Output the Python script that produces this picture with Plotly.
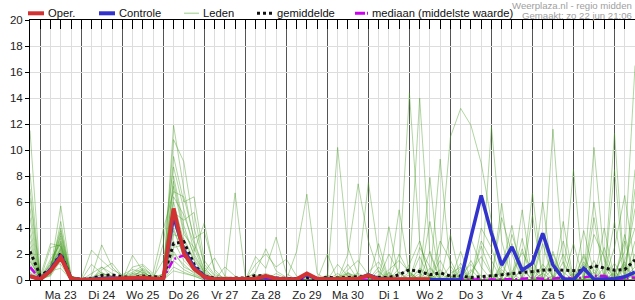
import plotly.graph_objects as go
import pandas as pd

# ---------------- data ----------------
start_time = "2025-06-22 18:00"
n_steps = 60
day_labels = ["Ma 23", "Di 24", "Wo 25", "Do 26", "Vr 27", "Za 28", "Zo 29",
              "Ma 30", "Di 1", "Wo 2", "Do 3", "Vr 4", "Za 5", "Zo 6"]
label_start = "2025-06-23 12:00"

oper = [0.3, 0.05, 0.7, 1.75, 0.1, 0.02, 0.02, 0.05, 0.1, 0.1,
        0.15, 0.2, 0.1, 0.1, 5.5, 2.1, 0.85, 0.25, 0.05, 0.05,
        0.05, 0.05, 0.1, 0.3, 0.1, 0.05, 0.05, 0.5, 0.1, 0.05,
        0.05, 0.05, 0.1, 0.35, 0.05, 0.05, 0.05, 0.05, 0.05, 0.05]

controle = [0.3, 0.05, 0.8, 1.9, 0.1, 0.02, 0.05, 0.1, 0.15, 0.1,
            0.15, 0.15, 0.1, 0.1, 4.9, 2.3, 1.0, 0.3, 0.05, 0.05,
            0.05, 0.05, 0.1, 0.2, 0.1, 0.05, 0.05, 0.4, 0.1, 0.05,
            0.05, 0.05, 0.1, 0.4, 0.1, 0.05, 0.05, 0.05, 0.05, 0.0,
            0.0, 0.0, 0.0, 3.3, 6.5, 3.6, 1.15, 2.55, 0.75, 1.3,
            3.6, 1.15, 0.1, 0.0, 0.9, 0.05, 0.1, 0.1, 0.25, 0.6]

gemiddelde = [2.2, 0.35, 0.8, 2.05, 0.15, 0.05, 0.1, 0.35, 0.4, 0.25,
              0.2, 0.3, 0.25, 0.2, 2.8, 2.95, 1.2, 0.3, 0.15, 0.1,
              0.15, 0.15, 0.35, 0.3, 0.15, 0.1, 0.1, 0.2, 0.1, 0.2,
              0.15, 0.2, 0.25, 0.3, 0.2, 0.2, 0.4, 0.8, 0.65, 0.4,
              0.55, 0.3, 0.3, 0.2, 0.25, 0.3, 0.4, 0.5, 0.55, 0.65,
              0.75, 0.8, 0.75, 0.75, 0.7, 1.1, 0.95, 0.75, 0.8, 1.55]

mediaan = [1.0, 0.05, 0.7, 1.8, 0.05, 0.0, 0.0, 0.05, 0.05, 0.05,
           0.05, 0.1, 0.05, 0.1, 1.6, 1.9, 0.9, 0.15, 0.05, 0.0,
           0.0, 0.0, 0.05, 0.05, 0.0, 0.0, 0.0, 0.05, 0.0, 0.0,
           0.0, 0.0, 0.0, 0.05, 0.0, 0.0, 0.0, 0.0, 0.0, 0.0,
           0.0, 0.0, 0.05, 0.05, 0.05, 0.05, 0.05, 0.05, 0.1, 0.15,
           0.1, 0.1, 0.2, 0.1, 0.2, 0.3, 0.3, 0.1, 0.1, 0.2]

# ensemble members (Leden): Zo18 | Ma | Di | Wo | Do | Vr | Za | Zo | Ma30 | Di1 | Wo2 | Do3 | Vr4 | Za5 | Zo6 | Ma7
m01 = [11.5, 0.2,0.5,2.5,0.1, 0.0,0.1,0.3,0.2, 0.1,0.4,0.6,0.1, 0.2,11.9,7.0,3.0, 0.8,0.2,0.1,0.0, 0.0,0.3,0.5,0.2, 0.0,0.1,0.0,0.0, 0.0,0.2,0.5,0.3, 0.1,0.0,0.8,1.5, 0.6,0.0,0.2,0.0, 0.0,0.4,1.2,0.3, 0.0,0.0,0.6,2.1, 0.8,0.0,0.3,0.0, 0.0,1.4,0.2,0.0, 0.5,2.2,16.5]
m02 = [8.2, 0.1,0.8,5.7,0.3, 0.0,0.0,0.2,0.1, 0.0,0.2,0.8,0.3, 0.4,10.8,9.1,4.0, 1.2,0.3,0.0,0.0, 0.0,0.0,0.1,0.0, 0.0,0.0,0.2,0.0, 0.0,10.2,2.5,0.4, 0.0,0.3,0.0,0.0, 0.0,0.9,0.4,0.0, 0.0,0.0,0.0,2.6, 0.5,0.0,0.0,0.8, 0.0,0.3,11.6,1.2, 0.0,0.0,0.0,0.5, 0.0,0.2,1.0]
m03 = [7.0, 0.0,1.0,3.2,0.2, 0.0,0.3,2.7,1.0, 0.2,0.5,0.9,0.4, 0.1,9.5,6.0,6.4, 1.5,0.4,0.2,0.0, 0.1,0.6,2.4,0.7, 0.2,0.0,0.1,0.0, 0.0,0.0,2.0,7.4, 3.0,0.6,0.0,0.0, 0.0,0.5,0.0,0.0, 0.3,0.0,0.0,0.0, 0.0,1.0,4.2,0.0, 0.0,0.0,0.9,0.0, 0.0,0.0,3.5,1.8, 0.0,0.0,0.4]
m04 = [6.3, 0.3,2.8,2.6,0.1, 0.0,1.2,0.5,0.3, 0.0,1.9,0.7,0.0, 2.8,8.7,5.5,2.2, 4.4,0.6,0.0,0.0, 0.0,0.0,0.0,0.0, 0.0,0.0,0.0,0.0, 0.0,0.0,0.0,0.6, 7.5,2.0,0.0,0.9, 14.4,3.0,0.0,0.0, 0.0,0.0,0.0,0.0, 0.3,0.0,0.0,0.0, 0.0,0.5,2.0,0.0, 0.0,0.2,0.0,0.0, 0.0,0.0,0.0]
m05 = [5.5, 0.1,0.6,4.5,0.2, 0.1,0.0,0.8,1.3, 0.3,0.6,1.1,0.2, 0.0,8.0,4.2,1.8, 0.6,1.7,0.3,0.1, 0.0,1.8,0.9,3.3, 0.5,0.0,0.0,0.0, 0.0,0.3,0.0,0.0, 0.0,0.0,0.6,0.0, 0.4,14.0,2.0,0.0, 0.0,0.3,0.0,0.0, 0.0,0.0,0.5,0.0, 0.0,0.0,0.0,0.0, 0.0,0.0,10.2,1.5, 0.0,1.0,0.0]
m06 = [4.8, 0.0,0.4,1.8,0.1, 0.0,0.0,0.1,0.0, 0.0,0.2,0.5,0.0, 0.3,7.2,3.5,2.5, 0.5,0.0,0.0,6.7, 0.2,0.4,0.0,0.5, 0.1,0.2,0.0,0.0, 0.0,0.0,0.0,0.0, 0.0,0.0,0.0,5.4, 0.4,0.0,0.0,9.3, 0.8,0.0,0.0,0.0, 0.0,0.0,0.0,0.0, 6.7,0.0,0.0,0.0, 0.0,0.0,0.0,0.0, 0.0,0.0,0.5]
m07 = [4.0, 0.2,1.2,3.0,0.3, 0.0,0.2,0.4,0.1, 0.0,1.0,1.2,0.5, 3.9,6.8,6.4,3.2, 3.7,0.8,0.0,0.0, 0.0,0.0,0.0,0.0, 0.0,2.2,6.6,0.5, 0.0,0.0,0.3,0.0, 0.0,0.0,0.0,0.0, 0.0,0.0,0.0,2.0, 11.0,13.2,11.9,9.0, 4.5,0.0,0.0,0.0, 0.0,0.0,0.0,0.0, 0.0,0.3,0.0,0.0, 0.0,0.0,0.0]
m08 = [3.5, 0.0,0.7,2.2,0.1, 0.1,2.3,1.5,0.8, 0.4,0.8,0.6,0.2, 1.5,6.0,3.0,1.5, 0.4,0.0,1.0,0.3, 0.0,1.2,2.0,1.0, 1.6,0.3,0.0,0.0, 0.0,0.5,0.0,0.0, 0.0,0.0,4.1,0.0, 0.0,0.0,7.9,0.0, 0.0,0.0,0.0,0.0, 0.0,5.9,0.0,0.0, 0.0,0.0,0.0,0.0, 0.0,0.0,0.0,0.0, 8.5,0.0,0.0]
m09 = [3.0, 0.1,0.9,4.0,0.2, 0.0,0.0,0.0,0.0, 0.0,0.0,0.3,0.0, 0.0,5.5,2.5,1.2, 0.3,0.0,0.0,0.0, 0.0,0.0,0.0,0.0, 0.0,0.0,0.0,0.0, 0.0,0.0,0.4,0.0, 0.0,0.0,2.0,0.5, 0.0,0.0,0.0,1.5, 0.0,0.0,0.0,0.0, 11.8,3.0,0.0,0.0, 0.0,0.0,2.2,0.0, 0.0,0.0,0.0,2.5, 0.0,0.0,0.0]
m10 = [2.6, 0.0,2.5,2.7,0.1, 0.0,0.5,1.0,0.2, 0.1,0.3,0.8,0.0, 0.0,5.2,4.6,5.2, 1.0,0.0,0.0,0.2, 0.0,0.0,0.3,0.0, 0.0,0.0,0.0,0.1, 0.3,0.0,0.8,1.5, 0.4,0.0,0.0,0.0, 1.2,3.0,0.0,0.0, 0.5,1.0,0.0,0.0, 0.0,0.0,0.0,2.4, 0.0,6.0,0.0,3.0, 0.0,0.0,0.0,0.0, 11.3,0.0,8.5]
m11 = [2.2, 0.1,0.3,1.5,0.0, 0.0,0.1,0.2,0.0, 0.0,0.5,0.4,0.1, 0.2,4.5,2.0,0.9, 0.3,0.2,0.0,0.0, 0.0,0.0,0.0,0.0, 0.0,0.0,0.0,0.0, 0.0,0.0,0.0,0.0, 0.0,0.0,0.0,0.0, 0.0,0.0,4.5,0.0, 0.0,2.2,0.0,0.0, 0.0,0.0,0.0,5.4, 0.0,0.0,0.0,0.0, 8.5,0.0,0.0,0.0, 0.0,1.2,0.0]
m12 = [2.0, 0.0,1.1,3.4,0.3, 0.1,0.0,0.0,0.0, 0.0,0.1,0.2,0.0, 0.5,4.0,1.8,0.8, 0.2,0.0,0.0,0.0, 0.2,0.0,0.0,0.0, 0.0,0.0,0.0,0.0, 0.0,1.2,0.3,0.0, 0.6,1.4,0.0,0.0, 0.0,2.5,1.0,0.0, 0.0,0.0,3.2,1.0, 0.0,0.0,0.0,0.0, 1.5,0.0,0.0,0.0, 0.0,3.8,0.5,0.0, 0.0,1.5,4.0]
m13 = [1.7, 0.0,0.6,2.0,0.1, 0.0,0.0,0.0,0.0, 0.0,0.0,0.0,0.0, 0.0,3.5,3.2,1.6, 0.5,0.0,0.0,0.0, 0.0,0.0,0.0,0.0, 0.0,0.0,0.0,0.0, 0.0,0.0,0.0,0.0, 0.0,0.0,0.0,0.0, 0.0,0.0,2.2,0.0, 0.0,0.0,0.0,3.0, 1.5,0.0,0.0,0.0, 0.0,0.0,0.0,4.5, 0.0,0.0,0.0,1.0, 0.0,3.0,0.0]
m14 = [1.4, 0.2,0.8,2.9,0.2, 0.0,0.2,0.6,0.0, 0.0,0.0,0.5,0.0, 0.0,3.0,1.5,0.7, 0.2,0.0,0.0,0.0, 0.0,0.0,0.0,0.0, 0.0,0.0,0.0,0.0, 2.0,0.0,0.0,0.0, 0.0,0.0,0.3,0.0, 0.0,0.0,0.0,0.8, 0.0,1.3,0.0,0.0, 0.0,4.8,2.0,0.0, 0.0,0.0,0.0,0.0, 0.0,0.0,6.0,0.0, 0.0,0.0,2.0]
m15 = [1.2, 0.0,1.4,1.2,0.0, 0.0,0.0,0.0,0.1, 0.0,0.0,0.0,0.0, 0.0,2.5,2.7,1.0, 0.3,0.0,0.0,0.0, 0.0,0.0,0.0,0.0, 0.0,0.0,0.0,0.0, 0.0,0.0,0.0,0.0, 0.0,2.8,0.0,0.0, 0.0,0.0,0.0,0.0, 0.0,0.0,1.5,0.0, 0.0,0.0,0.0,0.0, 0.0,3.5,0.0,0.0, 0.0,2.0,0.0,0.0, 4.5,0.0,0.0]
m16 = [1.0, 0.1,0.5,3.6,0.1, 0.0,0.0,0.0,0.0, 0.0,0.2,0.0,0.0, 0.0,2.0,1.2,0.5, 0.1,0.0,0.0,0.0, 0.0,0.0,0.0,0.0, 0.0,0.0,0.0,0.0, 0.0,0.0,0.0,0.0, 0.0,0.0,0.0,0.0, 0.0,1.8,0.0,0.0, 3.5,0.0,0.0,0.0, 0.0,0.0,2.8,0.0, 0.0,0.0,0.0,0.0, 0.0,1.2,0.0,4.0, 0.0,0.0,0.0]
m17 = [0.8, 0.0,0.9,2.4,0.0, 0.0,0.0,0.0,0.0, 0.0,0.0,0.0,0.0, 0.0,1.5,0.8,0.4, 0.1,0.0,0.0,0.0, 0.0,0.0,0.0,0.0, 0.0,0.0,0.0,0.0, 0.0,0.0,0.0,0.0, 0.0,0.0,0.0,2.0, 0.5,0.0,0.0,0.0, 0.0,0.0,0.8,0.0, 0.0,0.6,0.0,0.0, 5.0,0.0,0.0,0.0, 0.0,0.0,1.5,0.0, 2.5,6.5,1.0]
m18 = [0.6, 0.0,0.7,0.9,0.0, 0.0,0.0,0.0,0.0, 0.0,0.0,0.0,0.0, 0.0,1.0,0.6,0.3, 0.0,0.0,0.0,0.0, 0.0,0.0,0.0,0.0, 0.0,0.0,0.0,0.0, 0.0,0.3,0.0,0.0, 0.0,0.0,0.5,0.0, 0.0,0.8,0.2,0.0, 0.0,0.0,0.6,1.8, 0.4,0.0,0.0,0.9, 0.0,1.2,0.3,0.0, 2.8,0.0,0.6,0.0, 0.0,0.8,5.5]
m19 = [0.5, 0.1,1.6,2.8,0.1, 0.0,0.0,0.0,0.0, 0.0,0.0,0.0,0.0, 0.0,0.7,0.5,0.3, 0.0,0.0,0.0,0.0, 0.0,0.0,0.0,0.0, 0.0,0.0,0.0,0.0, 0.0,0.0,0.0,0.5, 0.2,0.0,0.0,0.0, 0.6,0.0,0.0,0.0, 0.0,0.7,0.0,0.0, 0.0,0.0,3.5,1.0, 0.0,0.5,0.0,1.4, 0.0,0.0,0.8,0.0, 0.0,3.5,0.0]
m20 = [0.4, 0.0,0.4,2.1,0.2, 0.0,0.0,1.0,0.5, 0.0,0.0,0.0,0.0, 0.0,6.4,5.0,2.8, 0.7,0.0,0.0,0.0, 0.0,0.0,0.0,0.0, 0.0,0.0,0.0,0.0, 0.0,0.0,1.2,0.0, 0.0,0.4,0.0,0.0, 0.0,0.0,0.0,3.0, 1.5,0.0,0.3,0.0, 0.0,0.8,0.0,0.0, 0.0,0.0,1.6,0.0, 0.5,0.0,0.0,0.0, 0.0,1.4,0.0]
m21 = [0.3, 0.0,1.0,3.8,0.3, 0.0,0.1,0.2,0.0, 0.0,0.0,0.0,0.0, 0.5,7.6,3.8,2.0, 0.6,0.0,0.0,0.0, 0.0,0.0,0.0,0.0, 0.0,0.0,0.0,0.0, 0.0,0.0,0.5,0.0, 0.0,0.0,0.0,0.0, 0.0,0.0,0.4,0.0, 0.0,0.0,0.0,4.0, 2.5,0.0,0.0,0.0, 0.0,0.9,0.0,0.0, 0.0,0.0,4.8,0.0, 0.0,0.0,0.0]
m22 = [0.2, 0.0,0.6,1.6,0.1, 0.0,0.0,0.0,0.0, 0.0,0.0,0.0,0.0, 0.0,4.8,2.3,1.1, 0.3,0.0,0.0,0.0, 0.0,0.0,0.0,0.0, 0.0,0.0,0.0,0.0, 0.4,0.0,0.0,0.0, 0.0,0.0,0.0,0.6, 0.0,0.0,0.9,0.0, 0.0,0.0,0.0,0.0, 0.0,1.2,0.0,0.0, 0.0,2.8,0.0,0.0, 0.0,0.0,1.1,0.0, 0.6,0.0,7.0]
m23 = [0.9, 0.0,0.8,2.6,0.1, 0.0,0.0,0.5,0.3, 0.1,0.0,0.0,0.0, 0.0,3.8,1.9,0.9, 0.2,0.0,0.0,0.0, 0.0,0.0,0.0,0.0, 0.0,0.0,0.0,0.0, 0.0,0.0,0.0,0.0, 0.0,0.7,0.0,0.0, 0.0,0.0,0.0,0.5, 0.0,0.9,0.0,0.0, 0.0,0.0,0.0,3.2, 0.0,0.0,0.0,0.6, 0.0,1.8,0.0,0.0, 0.0,0.0,3.0]
m24 = [1.5, 0.1,1.2,2.3,0.2, 0.0,0.0,0.0,0.0, 0.0,0.0,0.0,0.0, 0.0,2.2,1.0,0.6, 0.2,0.0,0.0,0.0, 0.0,0.0,0.0,0.0, 0.0,0.0,0.0,0.0, 0.0,0.0,0.6,0.0, 0.0,1.0,0.0,0.0, 0.0,0.3,0.0,0.0, 1.1,0.0,0.0,0.0, 0.0,0.0,0.0,0.0, 0.0,0.0,0.0,2.0, 0.0,0.0,0.0,0.0, 1.3,0.0,0.0]

leden = [m01, m02, m03, m04, m05, m06, m07, m08, m09, m10, m11, m12,
         m13, m14, m15, m16, m17, m18, m19, m20, m21, m22, m23, m24]

# ---------------- styling ----------------
RED = "#d23232"
BLUE = "#3232cc"
MAGENTA = "#cc00ee"
GREEN_LINE = "rgba(70,155,30,0.42)"
GREEN_LEG = "#b8dcaa"
FONT = "Liberation Sans, Arial, sans-serif"

times = pd.date_range(start_time, periods=n_steps, freq="6h")
label_pos = pd.date_range(label_start, periods=len(day_labels), freq="D")
xr = [times[0], times[-1]]

fig = go.Figure()
for m in leden:
    fig.add_trace(go.Scatter(x=times, y=m, mode="lines",
                             line=dict(color=GREEN_LINE, width=1),
                             showlegend=False, hoverinfo="skip"))
fig.add_trace(go.Scatter(x=times, y=mediaan, mode="lines", name="mediaan",
                         line=dict(color=MAGENTA, width=2.5, dash="8px,3px,2px,3px"),
                         showlegend=False))
fig.add_trace(go.Scatter(x=times, y=gemiddelde, mode="lines", name="gemiddelde",
                         line=dict(color="#111111", width=3, dash="3px,3px"),
                         showlegend=False))
fig.add_trace(go.Scatter(x=times, y=controle, mode="lines", name="Controle",
                         line=dict(color=BLUE, width=3.5), showlegend=False))
fig.add_trace(go.Scatter(x=times[:len(oper)], y=oper, mode="lines", name="Oper.",
                         line=dict(color=RED, width=4), showlegend=False))
# dummy traces to anchor the extra axes
fig.add_trace(go.Scatter(x=[times[0]], y=[0], xaxis="x2", mode="markers",
                         marker=dict(opacity=0), showlegend=False, hoverinfo="skip"))
fig.add_trace(go.Scatter(x=[times[0]], y=[0], xaxis="x3", mode="markers",
                         marker=dict(opacity=0), showlegend=False, hoverinfo="skip"))

DAY = 86400000
SIX = 21600000

fig.update_layout(
    width=635, height=300,
    margin=dict(l=30, r=0, t=20, b=20),
    paper_bgcolor="white", plot_bgcolor="white",
    font=dict(family=FONT, size=11, color="#222"),
    showlegend=False,
    xaxis=dict(type="date", range=xr, tick0="2025-06-23 00:00", dtick=DAY,
               showgrid=True, gridcolor="#555555", gridwidth=1,
               ticks="outside", ticklen=5, tickcolor="#000", showticklabels=False,
               showline=True, linecolor="#000", linewidth=1, zeroline=False,
               minor=dict(dtick=SIX, tick0="2025-06-23 00:00", showgrid=True,
                          gridcolor="#dddddd", ticks="outside", ticklen=5,
                          tickcolor="#000")),
    xaxis2=dict(type="date", range=xr, overlaying="x", side="top",
                tick0="2025-06-23 00:00", dtick=SIX, ticks="inside", ticklen=9,
                tickcolor="#000", showticklabels=False, showgrid=False,
                showline=True, linecolor="#000", linewidth=1, zeroline=False),
    xaxis3=dict(type="date", range=xr, overlaying="x", side="bottom",
                tickmode="array", tickvals=list(label_pos), ticktext=day_labels,
                ticks="outside", ticklen=4, tickcolor="rgba(0,0,0,0)",
                showgrid=False, showline=False, zeroline=False,
                tickfont=dict(size=11.5, color="#222")),
    yaxis=dict(range=[0, 20], dtick=2, showgrid=True, gridcolor="#dddddd",
               ticks="outside", ticklen=4, tickcolor="#000",
               showline=True, linecolor="#000", linewidth=1, zeroline=False,
               tickfont=dict(size=11.5, color="#222")),
)

# ---------------- manual legend & header ----------------
def px(xp):
    return (xp - 30) / 605.0

def py(yp):
    return (280 - yp) / 260.0

LEG_Y = 13.3
legend_items = [
    (28, 44, RED, 4, "solid", 46, "Oper."),
    (99, 115, BLUE, 4, "solid", 117, "Controle"),
    (184, 199, GREEN_LEG, 1.5, "solid", 201, "Leden"),
    (257, 272, "#111111", 3, "3px,3px", 275, "gemiddelde"),
    (355, 368, MAGENTA, 3, "10px,2px,2px,10px", 370, "mediaan (middelste waarde)"),
]
for x0, x1, col, w, dash, tx, label in legend_items:
    fig.add_shape(type="line", xref="paper", yref="paper",
                  x0=px(x0), x1=px(x1), y0=py(LEG_Y), y1=py(LEG_Y),
                  line=dict(color=col, width=w, dash=dash))
    fig.add_annotation(xref="paper", yref="paper", x=px(tx), y=py(LEG_Y),
                       xanchor="left", yanchor="middle", text=label,
                       showarrow=False, font=dict(size=11.2, color="#111", family=FONT))

fig.add_annotation(xref="paper", yref="paper", x=px(634), y=py(5.5),
                   xanchor="right", yanchor="middle", text="Weerplaza.nl - regio midden",
                   showarrow=False, font=dict(size=9.6, color="#a0a0a0", family=FONT))
fig.add_annotation(xref="paper", yref="paper", x=px(634), y=py(15.5),
                   xanchor="right", yanchor="middle", text="Gemaakt: zo 22 jun 21:06",
                   showarrow=False, font=dict(size=9.6, color="#a0a0a0", family=FONT))

fig.write_html("out.html")
